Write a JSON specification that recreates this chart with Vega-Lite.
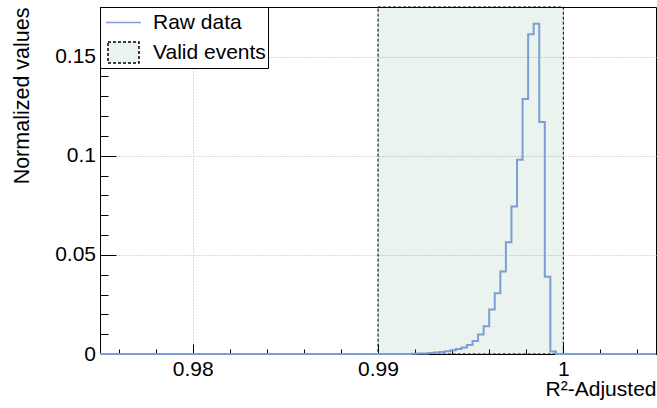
{
  "$schema": "https://vega.github.io/schema/vega-lite/v6.json",
  "width": 556,
  "height": 347,
  "autosize": {"type": "none"},
  "padding": {"left": 100, "top": 7, "right": 1, "bottom": 54},
  "background": "white",
  "config": {
    "view": {"stroke": "black", "strokeWidth": 1},
    "font": "Liberation Sans"
  },
  "resolve": {"axis": {"x": "independent"}},
  "datasets": {
    "hist": [
      {"x": 0.975, "v": 0, "series": "Raw data"},
      {"x": 0.9753, "v": 0, "series": "Raw data"},
      {"x": 0.9756, "v": 0, "series": "Raw data"},
      {"x": 0.9759, "v": 0, "series": "Raw data"},
      {"x": 0.9762, "v": 0, "series": "Raw data"},
      {"x": 0.9765, "v": 0, "series": "Raw data"},
      {"x": 0.9768, "v": 0, "series": "Raw data"},
      {"x": 0.9771, "v": 0, "series": "Raw data"},
      {"x": 0.9774, "v": 0, "series": "Raw data"},
      {"x": 0.9777, "v": 0, "series": "Raw data"},
      {"x": 0.978, "v": 0, "series": "Raw data"},
      {"x": 0.9783, "v": 0, "series": "Raw data"},
      {"x": 0.9786, "v": 0, "series": "Raw data"},
      {"x": 0.9789, "v": 0, "series": "Raw data"},
      {"x": 0.9792, "v": 0, "series": "Raw data"},
      {"x": 0.9795, "v": 0, "series": "Raw data"},
      {"x": 0.9798, "v": 0, "series": "Raw data"},
      {"x": 0.9801, "v": 0, "series": "Raw data"},
      {"x": 0.9804, "v": 0, "series": "Raw data"},
      {"x": 0.9807, "v": 0, "series": "Raw data"},
      {"x": 0.981, "v": 0, "series": "Raw data"},
      {"x": 0.9813, "v": 0, "series": "Raw data"},
      {"x": 0.9816, "v": 0, "series": "Raw data"},
      {"x": 0.9819, "v": 0, "series": "Raw data"},
      {"x": 0.9822, "v": 0, "series": "Raw data"},
      {"x": 0.9825, "v": 0, "series": "Raw data"},
      {"x": 0.9828, "v": 0, "series": "Raw data"},
      {"x": 0.9831, "v": 0, "series": "Raw data"},
      {"x": 0.9834, "v": 0, "series": "Raw data"},
      {"x": 0.9837, "v": 0, "series": "Raw data"},
      {"x": 0.984, "v": 0, "series": "Raw data"},
      {"x": 0.9843, "v": 0, "series": "Raw data"},
      {"x": 0.9846, "v": 0, "series": "Raw data"},
      {"x": 0.9849, "v": 0, "series": "Raw data"},
      {"x": 0.9852, "v": 0, "series": "Raw data"},
      {"x": 0.9855, "v": 0, "series": "Raw data"},
      {"x": 0.9858, "v": 0, "series": "Raw data"},
      {"x": 0.9861, "v": 0, "series": "Raw data"},
      {"x": 0.9864, "v": 0, "series": "Raw data"},
      {"x": 0.9867, "v": 0, "series": "Raw data"},
      {"x": 0.987, "v": 0, "series": "Raw data"},
      {"x": 0.9873, "v": 0, "series": "Raw data"},
      {"x": 0.9876, "v": 0, "series": "Raw data"},
      {"x": 0.9879, "v": 0, "series": "Raw data"},
      {"x": 0.9882, "v": 0, "series": "Raw data"},
      {"x": 0.9885, "v": 0, "series": "Raw data"},
      {"x": 0.9888, "v": 0, "series": "Raw data"},
      {"x": 0.9891, "v": 0, "series": "Raw data"},
      {"x": 0.9894, "v": 0, "series": "Raw data"},
      {"x": 0.9897, "v": 0, "series": "Raw data"},
      {"x": 0.99, "v": 0, "series": "Raw data"},
      {"x": 0.9903, "v": 0, "series": "Raw data"},
      {"x": 0.9906, "v": 0, "series": "Raw data"},
      {"x": 0.9909, "v": 0, "series": "Raw data"},
      {"x": 0.9912, "v": 0.00003, "series": "Raw data"},
      {"x": 0.9915, "v": 0.00005, "series": "Raw data"},
      {"x": 0.9918, "v": 0.0001, "series": "Raw data"},
      {"x": 0.9921, "v": 0.0002, "series": "Raw data"},
      {"x": 0.9924, "v": 0.0003, "series": "Raw data"},
      {"x": 0.9927, "v": 0.0005, "series": "Raw data"},
      {"x": 0.993, "v": 0.0007, "series": "Raw data"},
      {"x": 0.9933, "v": 0.001, "series": "Raw data"},
      {"x": 0.9936, "v": 0.0014, "series": "Raw data"},
      {"x": 0.9939, "v": 0.0019, "series": "Raw data"},
      {"x": 0.9942, "v": 0.0025, "series": "Raw data"},
      {"x": 0.9945, "v": 0.0033, "series": "Raw data"},
      {"x": 0.9948, "v": 0.0045, "series": "Raw data"},
      {"x": 0.9951, "v": 0.0065, "series": "Raw data"},
      {"x": 0.9954, "v": 0.0098, "series": "Raw data"},
      {"x": 0.9957, "v": 0.014, "series": "Raw data"},
      {"x": 0.996, "v": 0.0224, "series": "Raw data"},
      {"x": 0.9963, "v": 0.0306, "series": "Raw data"},
      {"x": 0.9966, "v": 0.0416, "series": "Raw data"},
      {"x": 0.9969, "v": 0.0564, "series": "Raw data"},
      {"x": 0.9972, "v": 0.0744, "series": "Raw data"},
      {"x": 0.9975, "v": 0.098, "series": "Raw data"},
      {"x": 0.9978, "v": 0.1286, "series": "Raw data"},
      {"x": 0.9981, "v": 0.1613, "series": "Raw data"},
      {"x": 0.9984, "v": 0.1665, "series": "Raw data"},
      {"x": 0.9987, "v": 0.117, "series": "Raw data"},
      {"x": 0.999, "v": 0.039, "series": "Raw data"},
      {"x": 0.9993, "v": 0.0012, "series": "Raw data"},
      {"x": 0.9996, "v": 0, "series": "Raw data"},
      {"x": 0.9999, "v": 0, "series": "Raw data"},
      {"x": 1.0002, "v": 0, "series": "Raw data"},
      {"x": 1.0005, "v": 0, "series": "Raw data"},
      {"x": 1.0008, "v": 0, "series": "Raw data"},
      {"x": 1.0011, "v": 0, "series": "Raw data"},
      {"x": 1.0014, "v": 0, "series": "Raw data"},
      {"x": 1.0017, "v": 0, "series": "Raw data"},
      {"x": 1.002, "v": 0, "series": "Raw data"},
      {"x": 1.0023, "v": 0, "series": "Raw data"},
      {"x": 1.0026, "v": 0, "series": "Raw data"},
      {"x": 1.0029, "v": 0, "series": "Raw data"},
      {"x": 1.0032, "v": 0, "series": "Raw data"},
      {"x": 1.0035, "v": 0, "series": "Raw data"},
      {"x": 1.0038, "v": 0, "series": "Raw data"},
      {"x": 1.0041, "v": 0, "series": "Raw data"},
      {"x": 1.0044, "v": 0, "series": "Raw data"},
      {"x": 1.0047, "v": 0, "series": "Raw data"},
      {"x": 1.005, "v": 0, "series": "Raw data"}
    ],
    "region": [
      {"x0": 0.99, "x1": 1.0, "series": "Valid events"}
    ]
  },
  "layer": [
    {
      "data": {"name": "region"},
      "mark": {"type": "rect", "stroke": "black", "strokeWidth": 1, "strokeDash": [3, 2]},
      "encoding": {
        "x": {
          "field": "x0", "type": "quantitative",
          "scale": {"domain": [0.975, 1.005], "nice": false, "zero": false},
          "axis": {
            "orient": "bottom",
            "values": [0.98, 0.99, 1],
            "format": "~g",
            "tickSize": -10,
            "tickColor": "black",
            "domainColor": "black",
            "grid": true,
            "gridColor": "#b4b4b4",
            "gridDash": [1, 2],
            "labelFont": "Liberation Sans",
            "labelFontSize": 21,
            "labelColor": "black",
            "labelPadding": 14,
            "labelFlush": false,
            "labelOverlap": false,
            "title": "R²-Adjusted",
            "titleFont": "Liberation Sans",
            "titleFontSize": 21,
            "titleFontWeight": "normal",
            "titleColor": "black",
            "titleAnchor": "end",
            "titlePadding": -0.5
          }
        },
        "x2": {"field": "x1"},
        "fill": {
          "field": "series", "type": "nominal",
          "scale": {"domain": ["Raw data", "Valid events"], "range": ["transparent", "rgba(46,139,87,0.1)"]},
          "legend": {
            "orient": "top-left",
            "offset": 0,
            "title": null,
            "fillColor": "white",
            "strokeColor": "black",
            "padding": 2,
            "rowPadding": 6,
            "symbolSize": 625,
            "symbolStrokeWidth": 1.5,
            "symbolOffset": 8,
            "symbolType": "M-1.24,-0.84H1.24V0.84H-1.24Z",
            "labelOffset": 16,
            "labelFont": "Liberation Sans",
            "labelFontSize": 21,
            "labelColor": "black",
            "labelLimit": 300,
            "encode": {
              "symbols": {
                "update": {
                  "shape": {"signal": "datum.value === 'Raw data' ? 'M-1.4,0H1.4' : 'M-1.24,-0.84H1.24V0.84H-1.24Z'"}
                }
              },
              "entries": {
                "update": {
                  "width": {"value": 183},
                  "fill": {"value": "white"}
                }
              }
            }
          }
        }
      }
    },
    {
      "data": {"name": "hist"},
      "mark": {"type": "line", "interpolate": "step-after", "strokeWidth": 2},
      "encoding": {
        "x": {
          "field": "x", "type": "quantitative",
          "axis": {
            "orient": "bottom",
            "values": [0.976, 0.978, 0.982, 0.984, 0.986, 0.988, 0.992, 0.994, 0.996, 0.998, 1.002, 1.004],
            "labels": false,
            "tickSize": -5,
            "tickColor": "black",
            "domain": false,
            "grid": false,
            "title": null
          }
        },
        "y": {
          "field": "v", "type": "quantitative",
          "scale": {"domain": [0, 0.175], "nice": false, "zero": true},
          "axis": {
            "values": [0, 0.01, 0.02, 0.03, 0.04, 0.05, 0.06, 0.07, 0.08, 0.09, 0.1, 0.11, 0.12, 0.13, 0.14, 0.15, 0.16, 0.17],
            "labelExpr": "abs(datum.value*20 - round(datum.value*20)) < 0.001 ? format(datum.value, '~g') : ''",
            "tickSize": {"condition": {"test": "abs(datum.value*20 - round(datum.value*20)) < 0.001", "value": -16}, "value": -8},
            "tickColor": "black",
            "domainColor": "black",
            "grid": true,
            "gridColor": "#b4b4b4",
            "gridDash": [1, 2],
            "gridOpacity": {"condition": {"test": "abs(datum.value*20 - round(datum.value*20)) < 0.001 && datum.value > 0", "value": 1}, "value": 0},
            "labelFont": "Liberation Sans",
            "labelFontSize": 21,
            "labelColor": "black",
            "labelPadding": 20.5,
            "labelFlush": false,
            "labelOverlap": false,
            "title": "Normalized values",
            "titleFont": "Liberation Sans",
            "titleFontSize": 21.5,
            "titleFontWeight": "normal",
            "titleColor": "black",
            "titleAnchor": "end",
            "titlePadding": 21
          }
        },
        "stroke": {
          "field": "series", "type": "nominal",
          "scale": {"domain": ["Raw data", "Valid events"], "range": ["#7b9ed6", "black"]},
          "legend": {
            "orient": "top-left",
            "offset": 0,
            "title": null,
            "fillColor": "white",
            "strokeColor": "black",
            "padding": 2,
            "rowPadding": 6,
            "symbolSize": 625,
            "symbolStrokeWidth": 1.5,
            "symbolOffset": 8,
            "symbolType": "M-1.24,-0.84H1.24V0.84H-1.24Z",
            "labelOffset": 16,
            "labelFont": "Liberation Sans",
            "labelFontSize": 21,
            "labelColor": "black",
            "labelLimit": 300,
            "encode": {
              "symbols": {
                "update": {
                  "shape": {"signal": "datum.value === 'Raw data' ? 'M-1.4,0H1.4' : 'M-1.24,-0.84H1.24V0.84H-1.24Z'"}
                }
              },
              "entries": {
                "update": {
                  "width": {"value": 183},
                  "fill": {"value": "white"}
                }
              }
            }
          }
        },
        "strokeDash": {
          "field": "series", "type": "nominal",
          "scale": {"domain": ["Raw data", "Valid events"], "range": [[1, 0], [3, 2]]},
          "legend": {
            "orient": "top-left",
            "offset": 0,
            "title": null,
            "fillColor": "white",
            "strokeColor": "black",
            "padding": 2,
            "rowPadding": 6,
            "symbolSize": 625,
            "symbolStrokeWidth": 1.5,
            "symbolOffset": 8,
            "symbolType": "M-1.24,-0.84H1.24V0.84H-1.24Z",
            "labelOffset": 16,
            "labelFont": "Liberation Sans",
            "labelFontSize": 21,
            "labelColor": "black",
            "labelLimit": 300,
            "encode": {
              "symbols": {
                "update": {
                  "shape": {"signal": "datum.value === 'Raw data' ? 'M-1.4,0H1.4' : 'M-1.24,-0.84H1.24V0.84H-1.24Z'"}
                }
              },
              "entries": {
                "update": {
                  "width": {"value": 183},
                  "fill": {"value": "white"}
                }
              }
            }
          }
        }
      }
    }
  ]
}
